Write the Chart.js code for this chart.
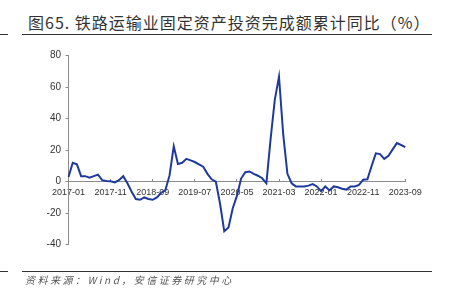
<!DOCTYPE html>
<html>
<head>
<meta charset="utf-8">
<script src="https://cdn.jsdelivr.net/npm/chart.js@4.4.1/dist/chart.umd.min.js"></script>
<style>
  html, body { margin: 0; padding: 0; background: #fff; }
  body { width: 455px; height: 302px; position: relative; overflow: hidden; }
  .title {
    position: absolute; left: 28px; top: 11px;
    font-family: "Noto Sans CJK SC", sans-serif; font-size: 16px; line-height: 22px;
    color: #333; letter-spacing: 1px; white-space: nowrap;
  }
  .rule { position: absolute; height: 1px; background: #333; }
  .source {
    position: absolute; left: 25px; top: 272px;
    font-family: "Noto Sans CJK SC", sans-serif; font-size: 10px; line-height: 15px;
    font-style: italic; color: #555; letter-spacing: 2.5px; white-space: nowrap;
  }
  .chart-box { position: absolute; left: 0; top: 0; width: 455px; height: 302px; }
</style>
</head>
<body>
<div class="title">图65. 铁路运输业固定资产投资完成额累计同比（%）</div>
<div class="rule" style="left:0;width:8px;top:34px"></div>
<div class="rule" style="left:22px;width:410px;top:34px"></div>
<div class="chart-box"><canvas id="myChart" width="455" height="302"></canvas></div>
<div class="rule" style="left:0;width:8px;top:271px"></div>
<div class="rule" style="left:22px;width:410px;top:271px"></div>
<div class="source">资料来源：Wind，安信证券研究中心</div>

<script>
const months = [
  '2017-01','2017-02','2017-03','2017-04','2017-05','2017-06','2017-07','2017-08','2017-09','2017-10','2017-11','2017-12',
  '2018-01','2018-02','2018-03','2018-04','2018-05','2018-06','2018-07','2018-08','2018-09','2018-10','2018-11','2018-12',
  '2019-01','2019-02','2019-03','2019-04','2019-05','2019-06','2019-07','2019-08','2019-09','2019-10','2019-11','2019-12',
  '2020-01','2020-02','2020-03','2020-04','2020-05','2020-06','2020-07','2020-08','2020-09','2020-10','2020-11','2020-12',
  '2021-01','2021-02','2021-03','2021-04','2021-05','2021-06','2021-07','2021-08','2021-09','2021-10','2021-11','2021-12',
  '2022-01','2022-02','2022-03','2022-04','2022-05','2022-06','2022-07','2022-08','2022-09','2022-10','2022-11','2022-12',
  '2023-01','2023-02','2023-03','2023-04','2023-05','2023-06','2023-07','2023-08','2023-09'
];

// 铁路运输业固定资产投资完成额累计同比 (%)
const railInvestYoY = [
  3, 12, 11, 3.5, 3.5, 2.5, 3.5, 4.5, 1, 0.5, 0.3, -0.5,
  1, 3.5, -1, -6.4, -11, -11.5, -10, -11, -11.5, -10, -7, -5.5,
  4, 22.5, 11.3, 12, 14.5, 13.5, 12.5, 11, 9.5, 5, 1.5, 0,
  -14, -31.5, -29, -17, -9, 2, 6, 6.5, 5, 3.8, 2.2, -1,
  27, 52, 66.7, 30, 5, -1, -3, -3, -3, -2.5, -1.5, -3,
  -6, -3, -5.5, -3, -3.5, -4.5, -5, -3, -3, -2, 1.3, 1.5,
  10, 18, 17.5, 14.5, 16.5, 20.5, 24.5, 23.3, 22
];

const tickLabels = ['2017-01','2017-11','2018-09','2019-07','2020-05','2021-03','2022-01','2022-11','2023-09'];

const axisGray = '#8c8c8c';
const textColor = '#333';

window.onload = () => {
  const ctx = document.getElementById('myChart');

  new Chart(ctx, {
    type: 'line',
    data: {
      labels: months,
      datasets: [{
        data: railInvestYoY,
        borderColor: '#1f3a9f',
        borderWidth: 2,
        pointRadius: 0,
        tension: 0,
        fill: false
      }]
    },
    options: {
      responsive: false,
      animation: false,
      events: [],
      layout: { padding: { left: 0, top: 55.7, right: 49.7, bottom: 57.3 } },
      plugins: { legend: { display: false }, tooltip: { enabled: false }, title: { display: false } },
      scales: {
        x: {
          type: 'category',
          position: { y: 0 },
          offset: false,
          afterBuildTicks: (scale) => {
            scale.ticks = scale.ticks.filter(t => tickLabels.includes(months[t.value]));
          },
          grid: { drawOnChartArea: false, tickLength: -3, tickColor: axisGray },
          border: { color: axisGray, width: 1 },
          ticks: {
            autoSkip: false, maxRotation: 0, padding: 8.5,
            color: textColor,
            font: { family: 'Liberation Sans, Arial, sans-serif', size: 9 }
          }
        },
        y: {
          min: -40, max: 80,
          afterFit: (scale) => { scale.width = 68.5; },
          grid: { drawOnChartArea: false, tickLength: 3, tickColor: axisGray },
          border: { color: axisGray, width: 1 },
          ticks: {
            stepSize: 20, padding: 4.5,
            color: textColor,
            font: { family: 'Liberation Sans, Arial, sans-serif', size: 10 }
          }
        }
      }
    }
  });
};
</script>
</body>
</html>
